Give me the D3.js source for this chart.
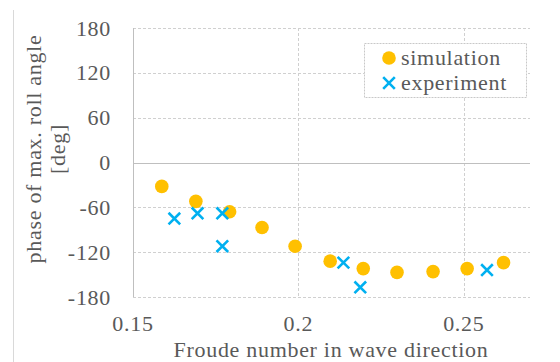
<!DOCTYPE html>
<html lang="en">
<head>
  <meta charset="UTF-8" />
  <title>Phase of max. roll angle</title>
  <script src="https://cdnjs.cloudflare.com/ajax/libs/d3/7.8.5/d3.min.js"></script>
  <style>
    body {
      margin: 0;
      background: #fff;
    }
    svg text {
      font-family: "Liberation Serif", "DejaVu Serif", serif;
      fill: #595959;
      letter-spacing: 0.7px;
    }
  </style>
</head>
<body>
  <svg id="chart" width="560" height="362"></svg>

  <script>
    // simulation results
    const simFroude = [0.1587, 0.169, 0.1792, 0.189, 0.199, 0.2096, 0.2196, 0.2298, 0.2407, 0.251, 0.262];
    const simPhase = [-32, -52, -66, -87, -112, -132, -142, -147, -146, -142, -134];

    // experiment results
    const expFroude = [0.1625, 0.1695, 0.177, 0.177, 0.2136, 0.2187, 0.257];
    const expPhase = [-75, -68, -68, -112, -134, -167, -144];

    const xTicks = [0.15, 0.2, 0.25];
    const yTicks = [-180, -120, -60, 0, 60, 120, 180];

    const svg = d3.select("#chart");
    const fontSize = 22;

    const x = d3.scaleLinear().domain([0.15, 0.27]).range([133, 530]);
    const y = d3.scaleLinear().domain([-180, 180]).range([297, 28]);

    // chart border (only left edge shows)
    svg.append("line")
      .attr("x1", 13.5).attr("x2", 13.5)
      .attr("y1", 10).attr("y2", 362)
      .attr("stroke", "#d9d9d9");

    // horizontal gridlines
    svg.append("g")
      .selectAll("line")
      .data(yTicks.filter(d => d !== 0))
      .join("line")
      .attr("x1", x(0.15)).attr("x2", x(0.27))
      .attr("y1", d => Math.round(y(d)) + 0.5)
      .attr("y2", d => Math.round(y(d)) + 0.5)
      .attr("stroke", "#d0d0d0")
      .attr("stroke-dasharray", "3,2");

    // vertical gridlines
    svg.append("g")
      .selectAll("line")
      .data(xTicks.slice(1))
      .join("line")
      .attr("x1", d => Math.round(x(d)) + 0.5)
      .attr("x2", d => Math.round(x(d)) + 0.5)
      .attr("y1", y(180)).attr("y2", y(-180))
      .attr("stroke", "#d0d0d0")
      .attr("stroke-dasharray", "3,2");

    // axis lines
    svg.append("line")
      .attr("x1", x(0.15)).attr("x2", x(0.27))
      .attr("y1", Math.round(y(0)) + 0.5).attr("y2", Math.round(y(0)) + 0.5)
      .attr("stroke", "#bfbfbf");
    svg.append("line")
      .attr("x1", Math.round(x(0.15)) + 0.5).attr("x2", Math.round(x(0.15)) + 0.5)
      .attr("y1", y(180)).attr("y2", y(-180))
      .attr("stroke", "#bfbfbf");

    // y tick labels
    svg.append("g")
      .selectAll("text")
      .data(yTicks)
      .join("text")
      .attr("x", 111)
      .attr("y", d => y(d) + 7.5)
      .attr("text-anchor", "end")
      .attr("font-size", fontSize)
      .text(d => d);

    // x tick labels
    svg.append("g")
      .selectAll("text")
      .data(xTicks)
      .join("text")
      .attr("x", d => x(d))
      .attr("y", 331)
      .attr("text-anchor", "middle")
      .attr("font-size", fontSize)
      .text(d => d3.format("")(d));

    // axis titles
    svg.append("text")
      .attr("x", 331)
      .attr("y", 357)
      .attr("text-anchor", "middle")
      .attr("font-size", fontSize)
      .text("Froude number in wave direction");

    const yTitle = svg.append("text")
      .attr("transform", "translate(0,149) rotate(-90)")
      .attr("text-anchor", "middle")
      .attr("font-size", fontSize);
    yTitle.append("tspan").attr("x", 0).attr("y", 41).text("phase of max. roll angle");
    yTitle.append("tspan").attr("x", 0).attr("y", 65).text("[deg]");

    // simulation markers
    const simData = simFroude.map((f, i) => ({ f, p: simPhase[i] }));
    svg.append("g")
      .selectAll("circle")
      .data(simData)
      .join("circle")
      .attr("cx", d => x(d.f))
      .attr("cy", d => y(d.p))
      .attr("r", 6.8)
      .attr("fill", "#ffc000");

    // experiment markers
    const expData = expFroude.map((f, i) => ({ f, p: expPhase[i] }));
    const cross = d3.symbol().type(d3.symbolX).size(90);
    svg.append("g")
      .selectAll("path")
      .data(expData)
      .join("path")
      .attr("transform", d => `translate(${x(d.f)},${y(d.p)})`)
      .attr("d", cross)
      .attr("fill", "none")
      .attr("stroke", "#00b0f0")
      .attr("stroke-width", 2.6);

    // legend
    const legend = svg.append("g");
    legend.append("rect")
      .attr("x", 364.5).attr("y", 43.5)
      .attr("width", 162).attr("height", 54)
      .attr("fill", "#fff")
      .attr("stroke", "#c8c8c8")
      .attr("stroke-dasharray", "2,1");
    legend.append("circle")
      .attr("cx", 389).attr("cy", 58)
      .attr("r", 6.8)
      .attr("fill", "#ffc000");
    legend.append("path")
      .attr("transform", "translate(389,83)")
      .attr("d", cross)
      .attr("fill", "none")
      .attr("stroke", "#00b0f0")
      .attr("stroke-width", 2.6);
    legend.append("text")
      .attr("x", 401).attr("y", 65)
      .attr("font-size", fontSize)
      .text("simulation");
    legend.append("text")
      .attr("x", 401).attr("y", 90)
      .attr("font-size", fontSize)
      .text("experiment");
  </script>
</body>
</html>
